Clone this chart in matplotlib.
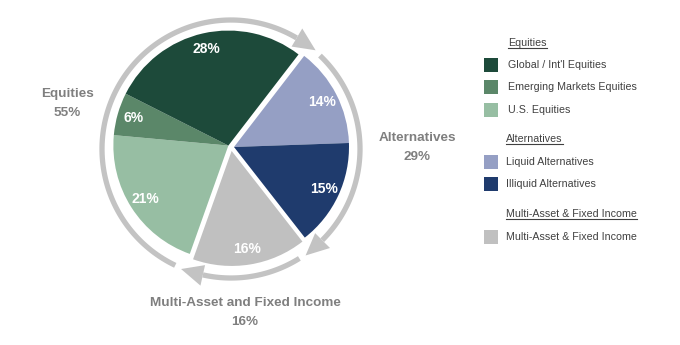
import numpy as np
import matplotlib.pyplot as plt
from matplotlib.patches import Rectangle, Polygon

plt.rcParams['font.family'] = ['Liberation Sans', 'DejaVu Sans']

# data
categories = ["Global / Int'l Equities", 'Emerging Markets Equities', 'U.S. Equities',
              'Liquid Alternatives', 'Illiquid Alternatives', 'Multi-Asset & Fixed Income']
values = [28, 6, 21, 14, 15, 16]
cat_group = [0, 0, 0, 1, 1, 2]
colors = ['#1d4a3a', '#5b8769', '#97bea3', '#959fc4', '#1f3b6d', '#c0c0c0']
group_names = ['Equities', 'Alternatives', 'Multi-Asset & Fixed Income']
group_titles = ['Equities', 'Alternatives', 'Multi-Asset and Fixed Income']
# clockwise order around the pie, starting at the Equities/Alternatives split
pie_order = [3, 4, 5, 2, 1, 0]
start_angle = 52.4

W, H = 680, 345
fig = plt.figure(figsize=(W / 100, H / 100), dpi=100)
ax = fig.add_axes([0, 0, 1, 1])

cx, cy, r = 231, H - 147, 115
wedges, _, autotexts = ax.pie(
    [values[i] for i in pie_order], colors=[colors[i] for i in pie_order],
    startangle=start_angle, counterclock=False, center=(cx, cy), radius=r,
    autopct=lambda p: f'{p:.0f}%', pctdistance=0.86,
    textprops=dict(color='white', fontweight='bold', fontsize=10),
    wedgeprops=dict(linewidth=0))
ax.set_xlim(0, W)
ax.set_ylim(0, H)
ax.set_aspect('equal')
ax.axis('off')

# group spans (degrees), pull each group a bit out of the centre
group_span = {}
for w, i in zip(wedges, pie_order):
    g = cat_group[i]
    lo, hi = group_span.get(g, (w.theta1, w.theta2))
    group_span[g] = (min(lo, w.theta1), max(hi, w.theta2))
offsets = [3, 3, 4]
for w, t, i in zip(wedges, autotexts, pie_order):
    g = cat_group[i]
    b = np.radians(sum(group_span[g]) / 2)
    dx, dy = offsets[g] * np.cos(b), offsets[g] * np.sin(b)
    w.set_center((cx + dx, cy + dy))
    x, y = t.get_position()
    t.set_position((x + dx, y + dy))

# curved arrows around each group
ring = '#c3c3c3'
rcx, rcy, R = 231, H - 149, 129
for g, (a_end, a_start) in group_span.items():
    th = np.radians(np.linspace(a_start - 6, a_end + 7, 120))
    ax.plot(rcx + R * np.cos(th), rcy + R * np.sin(th), color=ring, lw=3.8,
            solid_capstyle='butt')
    b, tip = np.radians(a_end + 7), np.radians(a_end - 3)
    head = [(rcx + (R - 10) * np.cos(b), rcy + (R - 10) * np.sin(b)),
            (rcx + (R + 11) * np.cos(b), rcy + (R + 11) * np.sin(b)),
            (rcx + (R + 1) * np.cos(tip), rcy + (R + 1) * np.sin(tip))]
    ax.add_patch(Polygon(head, closed=True, color=ring, lw=0))

# group labels
totals = [sum(v for v, gg in zip(values, cat_group) if gg == g) for g in range(3)]
label_pos = [(67, 94), (417, 138), (245, 303)]
for g, (x, y) in enumerate(label_pos):
    ax.text(x, H - y, group_titles[g], ha='center', va='center', fontsize=9.7,
            fontweight='bold', color='#7f7f7f')
    ax.text(x, H - y - 19, f'{totals[g]}%', ha='center', va='center', fontsize=9.7,
            fontweight='bold', color='#7f7f7f')

# legend, grouped with underlined headers
txt = '#404040'
header_y = [43, 139, 214]
row_y = [65, 87, 110, 162, 184, 237]
headers = []
for g in range(3):
    headers.append(ax.text(508 if g == 0 else 506, H - header_y[g], group_names[g],
                           ha='left', va='center', fontsize=7.7, color=txt))
for i, cat in enumerate(categories):
    y = H - row_y[i]
    ax.add_patch(Rectangle((484, y - 7), 14, 14, color=colors[i], lw=0))
    ax.text(508 if cat_group[i] == 0 else 506, y, cat, ha='left', va='center',
            fontsize=7.7, color=txt)

fig.canvas.draw()
inv = ax.transData.inverted()
for h in headers:
    bb = h.get_window_extent()
    (x0, y0), (x1, _) = inv.transform([(bb.x0, bb.y0), (bb.x1, bb.y1)])
    ax.plot([x0, x1], [y0 + 0.5, y0 + 0.5], color=txt, lw=0.8)

fig.savefig('out.png', dpi=100)
